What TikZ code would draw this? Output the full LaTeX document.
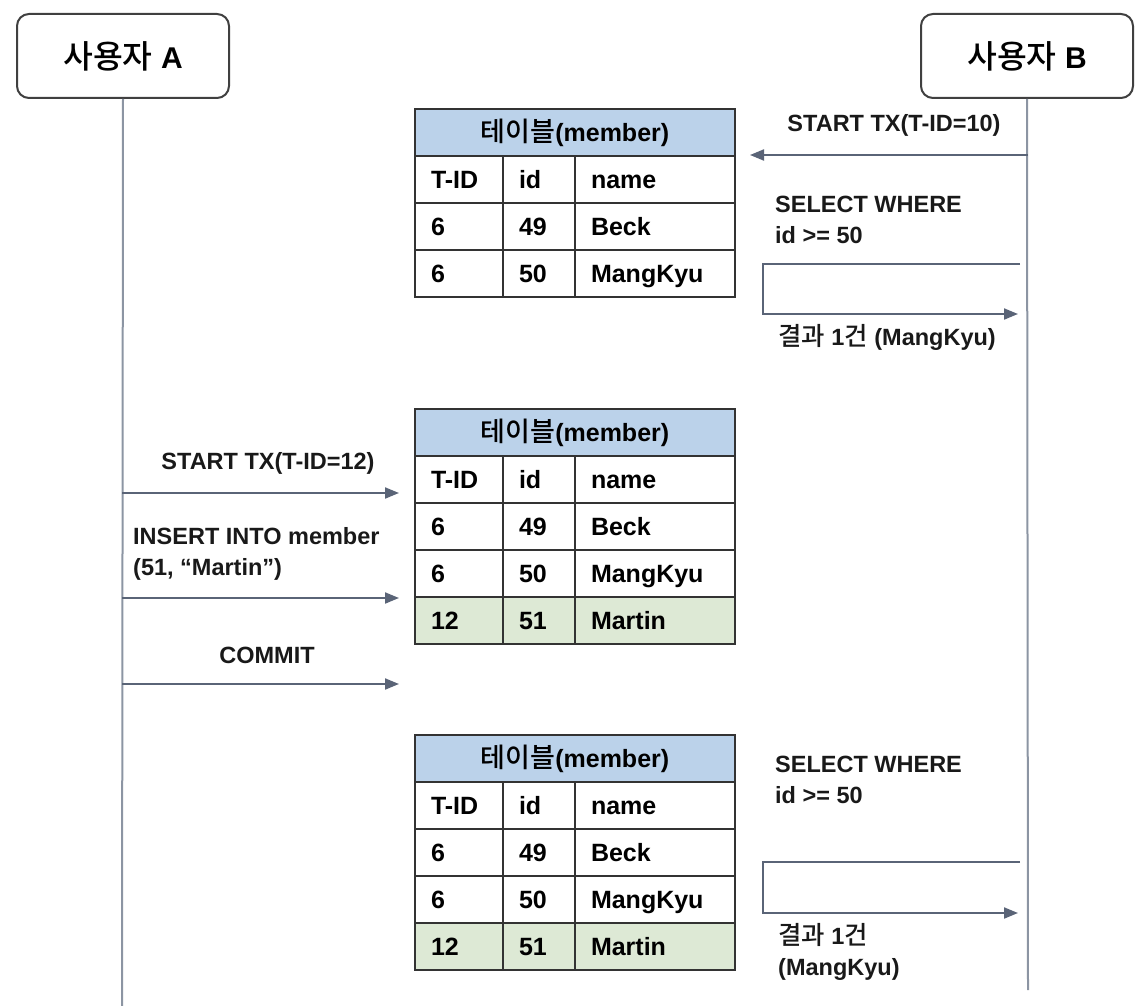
\documentclass[tikz,border=0pt]{standalone}
\usepackage{fontspec}
\setmainfont{Liberation Sans}
\newfontfamily\kr{Noto Sans CJK KR}[Scale=1.08, BoldFont={Noto Sans CJK KR Medium}]
\usetikzlibrary{arrows.meta, positioning}

\definecolor{linegray}{HTML}{8C95A3}
\definecolor{arrowgray}{HTML}{5A6477}
\definecolor{headblue}{HTML}{BBD2EA}
\definecolor{rowgreen}{HTML}{DDE9D5}

\tikzset{
  actor/.style={draw=black!75, line width=2pt, rounded corners=12pt, minimum width=212, minimum height=84, anchor=north west, font=\fontsize{30}{34}\selectfont\bfseries},
  lifeline/.style={draw=linegray, line width=2pt},
  msg/.style={draw=arrowgray, line width=2pt, -{Triangle[length=14pt,width=11pt]}},
  lbl/.style={font=\fontsize{23.5}{31}\selectfont\bfseries, inner sep=0pt, text=black!90},
  cell/.style={draw=black!80, line width=2pt, minimum height=47, inner xsep=16pt, inner ysep=0pt, text height=20, text depth=2, anchor=north west, align=left, font=\fontsize{25}{28}\selectfont\bfseries},
  headcell/.style={cell, fill=headblue, text width=288, align=center},
  tidcell/.style={cell, text width=56},
  idcell/.style={cell, text width=40},
  namecell/.style={cell, text width=128},
}

% one data row of a member table
\newcommand{\memrow}[6]{%
  \node[tidcell, fill=#6] (#1a) at (414,#2) {#3};
  \node[idcell, fill=#6] (#1b) at (502,#2) {#4};
  \node[namecell, fill=#6] (#1c) at (574,#2) {#5};
}

\begin{document}
\begin{tikzpicture}[x=1pt, y=-1pt]
  \useasboundingbox (0,0) rectangle (1146,1006);

  % actors and lifelines
  \node[actor] (A) at (16,13) {{\kr 사용자} A};
  \node[actor] (B) at (920,13) {{\kr 사용자} B};
  \coordinate (Aend) at (122,1006);
  \coordinate (Bend) at (1028,990);
  \draw[lifeline] (A.south) -- (Aend);
  \draw[lifeline] (B.south) -- (Bend);

  % table 1
  \node[headcell] (t1h) at (414,108) {{\kr 테이블}(member)};
  \memrow{t1r0}{155}{T-ID}{id}{name}{white}
  \memrow{t1r1}{202}{6}{49}{Beck}{white}
  \memrow{t1r2}{249}{6}{50}{MangKyu}{white}

  % table 2
  \node[headcell] (t2h) at (414,408) {{\kr 테이블}(member)};
  \memrow{t2r0}{455}{T-ID}{id}{name}{white}
  \memrow{t2r1}{502}{6}{49}{Beck}{white}
  \memrow{t2r2}{549}{6}{50}{MangKyu}{white}
  \memrow{t2r3}{596}{12}{51}{Martin}{rowgreen}

  % table 3
  \node[headcell] (t3h) at (414,734) {{\kr 테이블}(member)};
  \memrow{t3r0}{781}{T-ID}{id}{name}{white}
  \memrow{t3r1}{828}{6}{49}{Beck}{white}
  \memrow{t3r2}{875}{6}{50}{MangKyu}{white}
  \memrow{t3r3}{922}{12}{51}{Martin}{rowgreen}

  % user B: start tx and first select
  \coordinate (b1) at (1028,155);
  \coordinate (b1end) at (750,155);
  \draw[msg] (b1) -- (b1end);
  \node[lbl] (txB) at (894,125) {START TX(T-ID=10)};

  \node[lbl, anchor=north west, align=left] (sel1) at (775,196) {SELECT WHERE\\id >= 50};
  \coordinate (s1) at (1020,264);
  \coordinate (r1) at (1018,314);
  \draw[msg] (s1) -- (763,264) |- (r1);
  \node[lbl, anchor=west] (res1) at (778,337) {{\kr 결과} 1{\kr 건} (MangKyu)};

  % user A: start tx, insert, commit
  \coordinate (a1) at (122,493);
  \coordinate (a1end) at (399,493);
  \draw[msg] (a1) -- (a1end);
  \node[lbl] (txA) at (268,463) {START TX(T-ID=12)};

  \coordinate (a2) at (122,598);
  \coordinate (a2end) at (399,598);
  \draw[msg] (a2) -- (a2end);
  \node[lbl, anchor=north west, align=left] (ins) at (133,527) {INSERT INTO member\\(51, “Martin”)};

  \coordinate (a3) at (122,684);
  \coordinate (a3end) at (399,684);
  \draw[msg] (a3) -- (a3end);
  \node[lbl] (commit) at (267,655) {COMMIT};

  % user B: second select
  \node[lbl, anchor=north west, align=left] (sel2) at (775,756) {SELECT WHERE\\id >= 50};
  \coordinate (s2) at (1020,862);
  \coordinate (r2) at (1018,913);
  \draw[msg] (s2) -- (763,862) |- (r2);
  \node[lbl, anchor=north west, align=left] (res2) at (778,923) {{\kr 결과} 1{\kr 건}\\(MangKyu)};
\end{tikzpicture}
\end{document}
